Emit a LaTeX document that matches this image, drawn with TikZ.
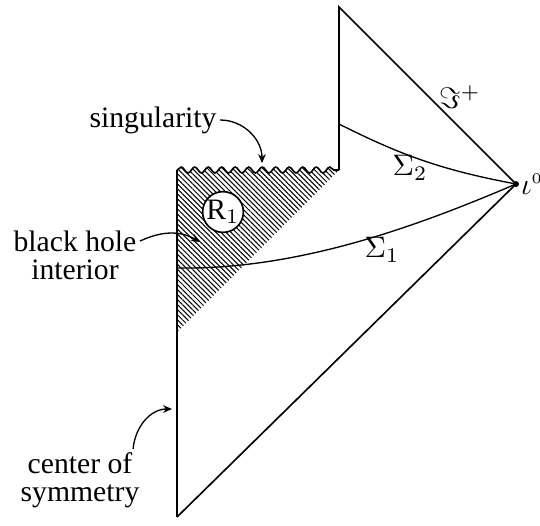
\documentclass[tikz,border=0pt]{standalone}
\usepackage{amsmath,amssymb}
\usepackage{fontspec}
\setmainfont{Liberation Serif}
\usetikzlibrary{positioning,arrows.meta,patterns.meta,decorations.pathmorphing}

\tikzset{
  bdry/.style={line width=0.55pt},
  slice/.style={line width=0.45pt},
  lbl/.style={font=\fontsize{10}{9.4}\selectfont,align=center,inner sep=1pt},
  wave/.style={decoration={snake,segment length=4.55pt,amplitude=1pt}},
}

\begin{document}
\begin{tikzpicture}[x=0.337pt,y=0.337pt,>={Stealth[length=3pt,width=2.6pt]}]
\useasboundingbox (0,0) rectangle (540,525);
% corners of the diagram
\coordinate (bot) at (177,8);
\coordinate (inull) at (516,341);
\coordinate (top) at (339,518);
\coordinate (sR) at (339,355);
\coordinate (sL) at (177,355);
\coordinate (hC) at (177,193);
\coordinate (s2) at (339,401);
\coordinate (s1) at (177,257);
% arrow tips
\coordinate (singtip) at (262,362);
\coordinate (bhtip) at (200,283);
\coordinate (costip) at (172,116);

% black hole region
\path[wave,pattern={Lines[angle=-45,distance=1.2pt,line width=0.35pt]}]
  decorate {(sL) -- (sR)} -- (hC) -- cycle;

\draw[bdry] (bot) -- (sL);
\draw[bdry,wave,decorate] (sL) -- (sR);
\draw[bdry] (sR) -- (top) -- (inull) -- (bot);

% slices
\draw[slice] (s2) to[bend right=8] (inull);
\draw[slice] (s1) .. controls (300,255) and (420,300) .. (inull);
\fill (inull) circle[radius=1pt];

\node[circle,draw,bdry,fill=white,minimum size=13.5pt,inner sep=0pt,font=\fontsize{10}{10}\selectfont] (rone) at (223,313) {R$_1$};

% labels
\node[lbl] (scri) at (460,428) {$\Im^{+}$};
\node[lbl,inner sep=0pt,right=1.5pt of inull] (ilab) {$\iota^{\scriptscriptstyle 0}$};
\node[lbl] (sig2) at (410,357) {$\Sigma_2$};
\node[lbl] (sig1) at (382,275) {$\Sigma_1$};
\node[lbl] (sing) at (153,405) {singularity};
\node[lbl] (bhi) at (75,270) {black hole\\interior};
\node[lbl] (cos) at (80,45) {center of\\symmetry};

\draw[slice,->] (sing.east) to[out=0,in=90] (singtip);
\draw[slice,->] ([yshift=4.7pt]bhi.east) to[out=25,in=150] (bhtip);
\draw[slice,->] ([xshift=-3.3pt]cos.north east) to[out=85,in=180] (costip);
\end{tikzpicture}
\end{document}
